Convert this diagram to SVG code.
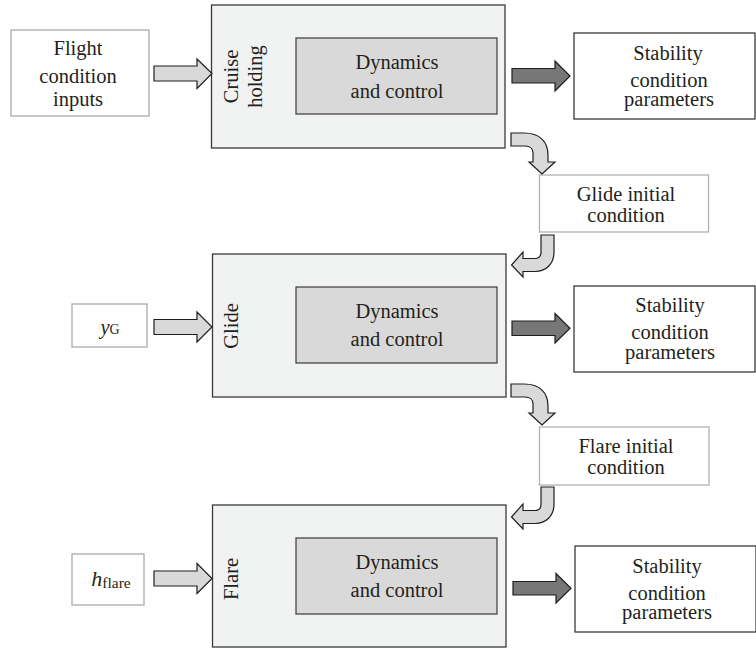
<svg xmlns="http://www.w3.org/2000/svg" width="756" height="648" viewBox="0 0 756 648">
<style>
.t{font-family:'Liberation Serif','DejaVu Serif',serif;font-size:20.5px;fill:#231f20;text-anchor:middle}
.phase{fill:#f1f2f2;stroke:#3a3a3a;stroke-width:1.3}
.inner{fill:#d9d9d9;stroke:#3a3a3a;stroke-width:1.2}
.in{fill:#fff;stroke:#aaaaaa;stroke-width:1.3}
.ic{fill:#fff;stroke:#b3b3b3;stroke-width:1.3}
.out{fill:#fff;stroke:#3a3a3a;stroke-width:1.3}
.la{fill:#d9d9d9;stroke:#1e1e1e;stroke-width:1.2;stroke-linejoin:miter}
.da{fill:#777777;stroke:#1e1e1e;stroke-width:1.2;stroke-linejoin:miter}
</style>
<rect width="756" height="648" fill="#fff"/>
<g font-family="Liberation Serif, serif">

<g id="flight-inputs">
<rect class="in" x="11" y="30" width="138" height="86"/>
<text class="t" x="78" y="55">Flight</text>
<text class="t" x="78" y="83">condition</text>
<text class="t" x="78" y="106">inputs</text>
</g>

<g id="cruise">
<rect class="phase" x="211.5" y="5" width="293.5" height="143"/>
<text class="t" transform="translate(238,76.5) rotate(-90)">Cruise</text>
<text class="t" transform="translate(262,76.5) rotate(-90)">holding</text>
<g id="cruise-dyn">
<rect class="inner" x="296" y="38" width="201" height="76"/>
<text class="t" x="397" y="69">Dynamics</text>
<text class="t" x="397" y="97.5">and control</text>
</g>
</g>

<g id="stab1">
<rect class="out" x="574" y="33" width="181" height="86"/>
<text class="t" x="668" y="60">Stability</text>
<text class="t" x="669" y="87">condition</text>
<text class="t" x="669" y="106">parameters</text>
</g>

<g id="glide-ic">
<rect class="ic" x="539.5" y="175" width="169" height="57"/>
<text class="t" x="626" y="201">Glide initial</text>
<text class="t" x="626" y="222">condition</text>
</g>

<g id="yg">
<rect class="in" x="72" y="304" width="75" height="43"/>
<text class="t" x="110" y="334"><tspan font-style="italic">y</tspan><tspan font-size="14">G</tspan></text>
</g>

<g id="glide">
<rect class="phase" x="212.5" y="254" width="293.5" height="143"/>
<text class="t" transform="translate(238,326) rotate(-90)">Glide</text>
<g id="glide-dyn">
<rect class="inner" x="296" y="287" width="201" height="76"/>
<text class="t" x="397" y="318">Dynamics</text>
<text class="t" x="397" y="346">and control</text>
</g>
</g>

<g id="stab2">
<rect class="out" x="574" y="286" width="181" height="86"/>
<text class="t" x="670" y="312">Stability</text>
<text class="t" x="670" y="339">condition</text>
<text class="t" x="670" y="359">parameters</text>
</g>

<g id="flare-ic">
<rect class="ic" x="539.5" y="427" width="169.5" height="58"/>
<text class="t" x="626" y="453">Flare initial</text>
<text class="t" x="626" y="474">condition</text>
</g>

<g id="hflare">
<rect class="in" x="72" y="554" width="72" height="51"/>
<text class="t" x="111" y="586"><tspan font-style="italic" font-size="22">h</tspan><tspan font-size="15.5" dy="2">flare</tspan></text>
</g>

<g id="flare">
<rect class="phase" x="212.5" y="505" width="293.5" height="142"/>
<text class="t" transform="translate(238,579) rotate(-90)">Flare</text>
<g id="flare-dyn">
<rect class="inner" x="296" y="538" width="201" height="76"/>
<text class="t" x="397" y="569">Dynamics</text>
<text class="t" x="397" y="597">and control</text>
</g>
</g>

<g id="stab3">
<rect class="out" x="575" y="546" width="181" height="86"/>
<text class="t" x="667" y="573">Stability</text>
<text class="t" x="667" y="600">condition</text>
<text class="t" x="667" y="619">parameters</text>
</g>
</g>

<g id="connectors">
<polygon class="la" points="154,66 197,66 197,59 212,73.5 197,88.5 197,81 154,81"/>
<polygon class="la" points="154,319.5 197,319.5 197,312 212,327 197,342 197,334.5 154,334.5"/>
<polygon class="la" points="154,571 197,571 197,563.5 212,578.5 197,593.5 197,586 154,586"/>

<polygon class="da" points="512,68.5 555,68.5 555,61 570,76 555,91 555,83 512,83"/>
<polygon class="da" points="512,321 555,321 555,313.5 570,328.3 555,343 555,335.5 512,335.5"/>
<polygon class="da" points="513,581.5 556,581.5 556,573.5 571,588.3 556,603 556,595 513,595"/>

<path id="turnA" class="la" d="M511,133 L524,133 C540,133 548,142 548,155 L548,162 L555,162 L542,174 L529,162 L533,162 L533,153 C533,149 530,146 525,146 L511,146 Z"/>
<path class="la" transform="translate(0,251)" d="M511,133 L524,133 C540,133 548,142 548,155 L548,162 L555,162 L542,174 L529,162 L533,162 L533,153 C533,149 530,146 525,146 L511,146 Z"/>

<path id="turnB" class="la" d="M541,235 L554,235 L554,252 C554,264 546,271.5 535,271.5 L523,271.5 L523,277 L511.5,265 L523,252 L523,258.5 L535,258.5 C539,258.5 541,256 541,252 Z"/>
<path class="la" transform="translate(0,252)" d="M541,235 L554,235 L554,252 C554,264 546,271.5 535,271.5 L523,271.5 L523,277 L511.5,265 L523,252 L523,258.5 L535,258.5 C539,258.5 541,256 541,252 Z"/>
</g>
</svg>
